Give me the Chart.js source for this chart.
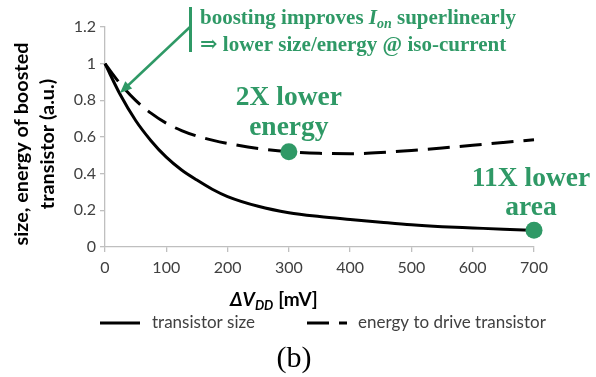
<!DOCTYPE html>
<html>
<head>
<meta charset="utf-8">
<script src="https://cdn.jsdelivr.net/npm/chart.js@4"></script>
<style>
  html, body { margin: 0; padding: 0; background: #ffffff; }
  canvas { display: block; }
</style>
</head>
<body>
<canvas id="c" width="596" height="377"></canvas>
<script>
// ---- data ----
const deltaVdd = [0, 25, 50, 75, 100, 125, 150, 175, 200, 250, 300, 350, 400, 450, 500, 550, 600, 650, 700];
const transistorSize = [1, 0.83, 0.69, 0.58, 0.49, 0.42, 0.365, 0.315, 0.275, 0.222, 0.187, 0.166, 0.15, 0.135, 0.121, 0.111, 0.104, 0.097, 0.091];
const driveEnergy = [1, 0.89, 0.80, 0.73, 0.675, 0.635, 0.605, 0.583, 0.565, 0.537, 0.52, 0.511, 0.509, 0.515, 0.527, 0.54, 0.555, 0.57, 0.585];
const seriesLabels = ['transistor size', 'energy to drive transistor'];
const highlightEnergyAt = 300;   // "2X lower energy"
const highlightSizeAt = 700;     // "11X lower area"
const xTicks = [0, 100, 200, 300, 400, 500, 600, 700];
const yTicks = [0, 0.2, 0.4, 0.6, 0.8, 1, 1.2];

const GREEN = '#2f9966';
const AXIS = '#bfbfbf';
const TEXT = '#404040';

const toXY = (ys) => deltaVdd.map((x, i) => ({ x: x, y: ys[i] }));
const pick = (ys, xv) => [{ x: xv, y: ys[deltaVdd.indexOf(xv)] }];

function fitFont(ctx, text, style, family, target) {
  ctx.font = style + ' 20px ' + family;
  const w = ctx.measureText(text).width;
  const size = 20 * target / w;
  return style + ' ' + size.toFixed(2) + 'px ' + family;
}

const annotations = {
  id: 'annotations',
  afterDraw(chart) {
    const ctx = chart.ctx;
    const xs = chart.scales.x;
    const SANS = 'Lato, "Open Sans", sans-serif';
    const SERIF = '"Liberation Serif", "DejaVu Serif", serif';
    ctx.save();

    // y-axis title (two lines, rotated)
    ctx.fillStyle = '#000';
    ctx.textAlign = 'center';
    ctx.textBaseline = 'middle';
    const cy = 144;
    const yt1 = 'size, energy of boosted', yt2 = 'transistor (a.u.)';
    ctx.font = fitFont(ctx, yt1, 'bold', SANS, 203);
    ctx.save(); ctx.translate(22, cy); ctx.rotate(-Math.PI / 2);
    ctx.fillText(yt1, 0, 0); ctx.restore();
    ctx.save(); ctx.translate(48, cy); ctx.rotate(-Math.PI / 2);
    ctx.fillText(yt2, 0, 0); ctx.restore();

    // x-axis title: ΔV_DD [mV]
    ctx.textBaseline = 'alphabetic';
    ctx.textAlign = 'left';
    const base = 306;
    let x = 230;
    ctx.font = 'italic bold 19px ' + SANS;
    ctx.fillText('\u0394V', x, base); x += ctx.measureText('\u0394V').width;
    ctx.font = 'italic bold 13px ' + SANS;
    ctx.fillText('DD', x, base + 4); x += ctx.measureText('DD').width + 5;
    ctx.font = 'bold 19px ' + SANS;
    ctx.fillText('[mV]', x, base);

    // legend
    const ly = 323;
    const dsets = chart.data.datasets;
    ctx.font = '17px ' + SANS;
    ctx.fillStyle = TEXT;
    ctx.textBaseline = 'middle';
    const items = [{ ds: dsets[0], x0: 100, tx: 152 }, { ds: dsets[1], x0: 307, tx: 358 }];
    items.forEach(it => {
      ctx.save();
      ctx.strokeStyle = it.ds.borderColor;
      ctx.lineWidth = it.ds.borderWidth;
      ctx.setLineDash(it.ds.borderDash || []);
      ctx.beginPath(); ctx.moveTo(it.x0, ly); ctx.lineTo(it.x0 + 40, ly); ctx.stroke();
      ctx.restore();
      ctx.fillText(it.ds.label, it.tx, ly);
    });

    // (b)
    ctx.fillStyle = '#000';
    ctx.font = '30px ' + SERIF;
    ctx.textAlign = 'center';
    ctx.textBaseline = 'middle';
    ctx.fillText('(b)', 294, 359);

    // green annotations
    ctx.fillStyle = GREEN;
    ctx.font = 'bold 27.5px ' + SERIF;
    ctx.textAlign = 'center';
    ctx.textBaseline = 'alphabetic';
    const ex = xs.getPixelForValue(highlightEnergyAt);
    ctx.fillText('2X lower', ex, 105);
    ctx.fillText('energy', ex, 135);
    const ax = xs.getPixelForValue(highlightSizeAt) - 3;
    ctx.fillText('11X lower', ax, 186);
    ctx.fillText('area', ax, 215);

    // top note
    ctx.textAlign = 'left';
    const f1 = 'bold 21px ' + SERIF;
    const fi = 'italic bold 21px ' + SERIF;
    const fs = 'italic bold 14px ' + SERIF;
    let tx = 200; const b1 = 24;
    ctx.font = f1; ctx.fillText('boosting improves ', tx, b1); tx += ctx.measureText('boosting improves ').width;
    ctx.font = fi; ctx.fillText('I', tx, b1); tx += ctx.measureText('I').width;
    ctx.font = fs; ctx.fillText('on', tx, b1 + 4); tx += ctx.measureText('on').width;
    ctx.font = f1; ctx.fillText(' superlinearly', tx, b1);
    ctx.fillText('\u21D2 lower size/energy @ iso-current', 200, 51);

    // bracket bar and arrow
    ctx.strokeStyle = GREEN;
    ctx.lineWidth = 3;
    ctx.beginPath(); ctx.moveTo(190.5, 7); ctx.lineTo(190.5, 52); ctx.stroke();
    const sx = 190, sy = 27, ex2 = 120, ey2 = 93;
    const ang = Math.atan2(ey2 - sy, ex2 - sx);
    ctx.lineWidth = 2.5;
    ctx.beginPath(); ctx.moveTo(sx, sy);
    ctx.lineTo(ex2 - 8 * Math.cos(ang), ey2 - 8 * Math.sin(ang)); ctx.stroke();
    ctx.beginPath();
    ctx.moveTo(ex2, ey2);
    ctx.lineTo(ex2 - 12 * Math.cos(ang) + 5 * Math.sin(ang), ey2 - 12 * Math.sin(ang) - 5 * Math.cos(ang));
    ctx.lineTo(ex2 - 12 * Math.cos(ang) - 5 * Math.sin(ang), ey2 - 12 * Math.sin(ang) + 5 * Math.cos(ang));
    ctx.closePath(); ctx.fill();

    ctx.restore();
  }
};

new Chart(document.getElementById('c'), {
  type: 'line',
  data: {
    datasets: [
      { label: seriesLabels[0], data: toXY(transistorSize), borderColor: '#000', borderWidth: 3,
        pointRadius: 0, cubicInterpolationMode: 'monotone', fill: false, order: 2, clip: false },
      { label: seriesLabels[1], data: toXY(driveEnergy), borderColor: '#000', borderWidth: 3,
        borderDash: [22, 10], pointRadius: 0, cubicInterpolationMode: 'monotone', fill: false, order: 2, clip: false },
      { label: 'energy mark', data: pick(driveEnergy, highlightEnergyAt), showLine: false, clip: false,
        pointRadius: 8.5, pointBackgroundColor: GREEN, pointBorderColor: GREEN, borderWidth: 0, order: 1 },
      { label: 'size mark', data: pick(transistorSize, highlightSizeAt), showLine: false, clip: false,
        pointRadius: 8.5, pointBackgroundColor: GREEN, pointBorderColor: GREEN, borderWidth: 0, order: 1 }
    ]
  },
  options: {
    responsive: false,
    animation: false,
    devicePixelRatio: 1,
    layout: { padding: { left: 0, right: 62, top: 27, bottom: 0 } },
    plugins: { legend: { display: false }, tooltip: { enabled: false } },
    scales: {
      x: {
        type: 'linear', min: 0, max: 700,
        afterBuildTicks: (s) => { s.ticks = xTicks.map(v => ({ value: v })); },
        afterFit: (s) => { s.height = 130; },
        grid: { drawOnChartArea: false, color: AXIS, tickLength: 5, lineWidth: 1.3 },
        border: { color: AXIS, width: 1.3 },
        ticks: { color: TEXT, font: { family: 'Lato', size: 16 }, padding: 6, maxRotation: 0 }
      },
      y: {
        type: 'linear', min: 0, max: 1.2,
        afterBuildTicks: (s) => { s.ticks = yTicks.map(v => ({ value: v })); },
        afterFit: (s) => { s.width = 105; },
        grid: { drawOnChartArea: false, color: AXIS, tickLength: 5, lineWidth: 1.3 },
        border: { color: AXIS, width: 1.3 },
        ticks: { color: TEXT, font: { family: 'Lato', size: 16 }, padding: 4,
          callback: (v) => String(Math.round(v * 10) / 10) }
      }
    }
  },
  plugins: [annotations]
});
</script>
</body>
</html>
